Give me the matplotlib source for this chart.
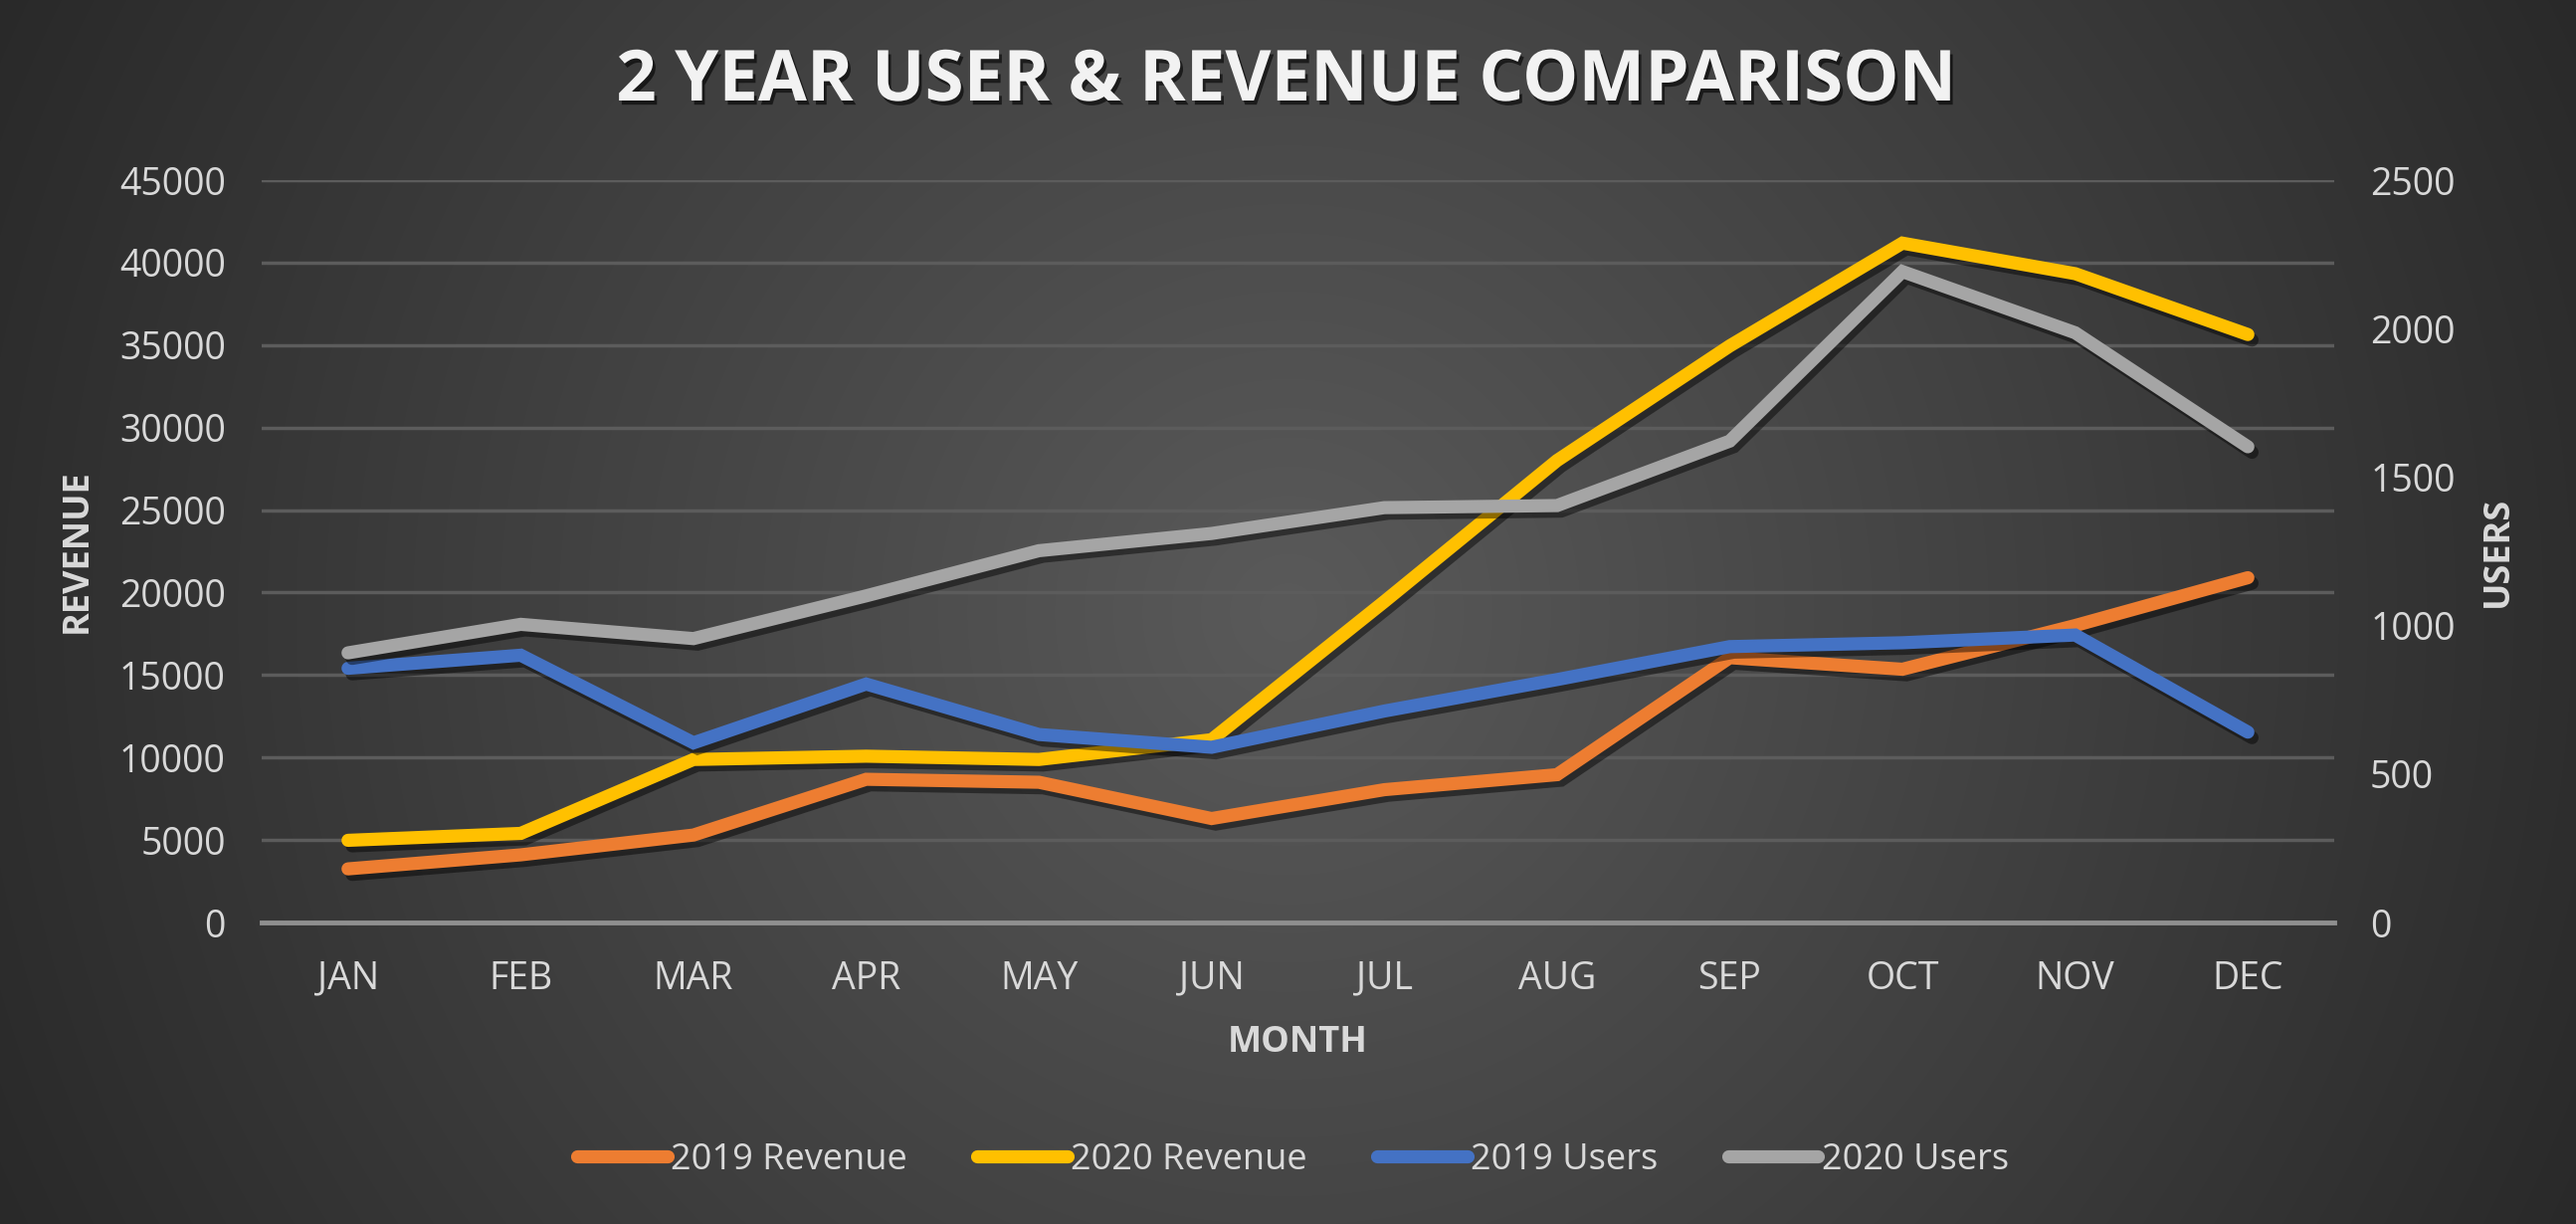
#!/usr/bin/env python3
# -*- coding: utf-8 -*-
"""
Comparación de usuarios e ingresos en dos años (2019 vs 2020)
"""
# librerias
import numpy as np
import matplotlib
matplotlib.use('Agg')
import matplotlib.pyplot as plt
import matplotlib.patheffects as pe

# datos
meses = ['JAN', 'FEB', 'MAR', 'APR', 'MAY', 'JUN', 'JUL', 'AUG', 'SEP', 'OCT', 'NOV', 'DEC']
ingresos_2019 = [3250, 4100, 5300, 8680, 8500, 6300, 8050, 8960, 16050, 15350, 18000, 20900]
ingresos_2020 = [4980, 5400, 9880, 10080, 9880, 11080, 19450, 28000, 34950, 41180, 39330, 35640]
usuarios_2019 = [856, 900, 605, 803, 633, 590, 712, 818, 929, 942, 968, 641]
usuarios_2020 = [908, 1004, 956, 1100, 1252, 1310, 1397, 1404, 1621, 2192, 1986, 1602]
ticks_ingresos = list(range(0, 45001, 5000))
ticks_usuarios = list(range(0, 2501, 500))

NARANJA = '#ED7D31'
AMARILLO = '#FFC000'
AZUL = '#4472C4'
GRIS = '#A5A5A5'
TEXTO = '#D9D9D9'

W, H = 2589, 1230


def fondo(fig):
	# degradado radial oscuro
	yy, xx = np.mgrid[0:H, 0:W]
	d = np.sqrt((xx - W / 2.0) ** 2 + (yy - H / 2.0) ** 2)
	v = np.clip(90 - 0.0341 * d, 40, 255) / 255.0
	img = np.dstack([v, v, v])
	axf = fig.add_axes([0, 0, 1, 1], zorder=-10)
	axf.imshow(img, aspect='auto', extent=(0, 1, 0, 1), interpolation='bilinear')
	axf.axis('off')


def main():
	plt.rcParams['font.family'] = ['Open Sans', 'DejaVu Sans']
	fig = plt.figure(figsize=(W / 100, H / 100), dpi=100)
	fondo(fig)

	ax = fig.add_axes([263 / W, 1 - 927 / H, 2083 / W, 746 / H])
	ax.patch.set_alpha(0)
	ax2 = ax.twinx()
	ax2.patch.set_alpha(0)

	sombra = [pe.SimpleLineShadow(offset=(3, -4), shadow_color='black', alpha=0.45), pe.Normal()]
	x = np.arange(len(meses))
	grosor = 9.5

	l1, = ax.plot(x, ingresos_2019, color=NARANJA, lw=grosor, solid_capstyle='round',
		solid_joinstyle='miter', path_effects=sombra, label='2019 Revenue', zorder=3)
	l2, = ax.plot(x, ingresos_2020, color=AMARILLO, lw=grosor, solid_capstyle='round',
		solid_joinstyle='miter', path_effects=sombra, label='2020 Revenue', zorder=3)
	l3, = ax2.plot(x, usuarios_2019, color=AZUL, lw=grosor, solid_capstyle='round',
		solid_joinstyle='miter', path_effects=sombra, label='2019 Users', zorder=3)
	l4, = ax2.plot(x, usuarios_2020, color=GRIS, lw=grosor, solid_capstyle='round',
		solid_joinstyle='miter', path_effects=sombra, label='2020 Users', zorder=3)

	# ejes
	ax.set_xlim(-0.5, len(meses) - 0.5)
	ax.set_ylim(0, 45000)
	ax2.set_ylim(0, 2500)
	ax.set_yticks(ticks_ingresos)
	ax2.set_yticks(ticks_usuarios)
	ax.set_xticks(x)
	ax.set_xticklabels(meses)
	ax.yaxis.grid(True, color='#5c5c5c', lw=2.5)
	ax.set_axisbelow(True)
	for a in (ax, ax2):
		for s in a.spines.values():
			s.set_visible(False)
	ax.spines['bottom'].set_visible(True)
	ax.spines['bottom'].set_color('#8f8f8f')
	ax.spines['bottom'].set_linewidth(3.5)
	ax.tick_params(axis='y', length=0, pad=26, labelsize=27, labelcolor=TEXTO)
	ax.tick_params(axis='x', length=0, pad=27, labelsize=27, labelcolor=TEXTO)
	ax2.tick_params(axis='y', length=0, pad=26, labelsize=27, labelcolor=TEXTO)

	# etiquetas
	ax.set_ylabel('REVENUE', color=TEXTO, fontsize=26, fontweight='bold')
	ax.yaxis.set_label_coords(-0.0802, 0.5)
	ax2.set_ylabel('USERS', color=TEXTO, fontsize=26, fontweight='bold', rotation=90)
	ax2.yaxis.set_label_coords(1.0706, 0.5)
	ax.set_xlabel('MONTH', color=TEXTO, fontsize=26, fontweight='bold')
	ax.xaxis.set_label_coords(0.5, -0.138)

	# titulo
	fig.text(1293 / W, 1 - 82 / H, '2 YEAR USER & REVENUE COMPARISON', ha='center', va='center',
		color='#F2F2F2', fontsize=51, fontweight='bold',
		path_effects=[pe.withSimplePatchShadow(offset=(2, -3), shadow_rgbFace='black', alpha=0.6)])

	# leyenda
	leg = fig.legend(handles=[l1, l2, l3, l4], loc='center', bbox_to_anchor=(0.502, 1 - 1166 / H),
		ncol=4, frameon=False, fontsize=26, handlelength=2.5, handletextpad=0.1,
		columnspacing=1.95, labelcolor=TEXTO)
	for h in leg.legend_handles:
		h.set_path_effects([])

	plt.savefig('out.png', dpi=100)


if __name__ == "__main__":
	main()
